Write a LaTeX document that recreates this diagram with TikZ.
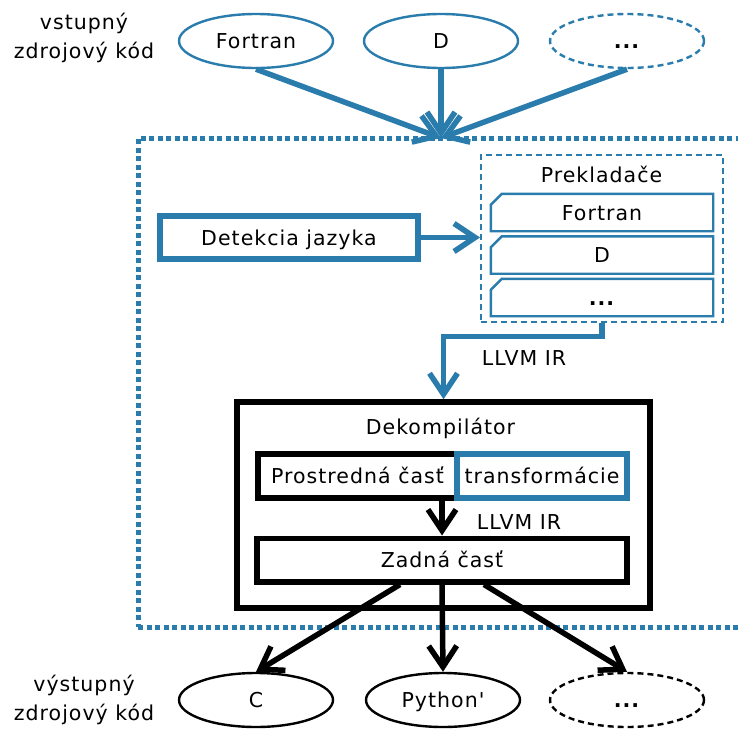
\documentclass[tikz,border=0pt]{standalone}
\usepackage{fontspec}
\setmainfont{DejaVu Sans}[LetterSpace=5,Ligatures=TeXOff]
\usetikzlibrary{arrows.meta,shapes.geometric,calc}
\definecolor{blu}{RGB}{42,124,172}
\newcommand\moredots{\textbf{...}}
\begin{document}
\begin{tikzpicture}[x=1pt,y=-1pt,
  font=\fontsize{20.5}{29}\selectfont,
  every node/.style={text height=17pt,text depth=2pt},
  plain/.style={text height=,text depth=,align=center},
  srcnode/.style={ellipse,draw=blu,line width=2.4pt,minimum width=154pt,minimum height=54pt,inner sep=0pt},
  srcmore/.style={srcnode,dash pattern=on 6pt off 4pt},
  dstnode/.style={ellipse,draw=black,line width=2.4pt,minimum width=154pt,minimum height=54pt,inner sep=0pt},
  dstmore/.style={dstnode,dash pattern=on 6pt off 4pt},
  boxb/.style={rectangle,draw=black,line width=5.5pt,inner sep=0pt},
  boxu/.style={rectangle,draw=blu,line width=5.5pt,inner sep=0pt},
  frontbox/.style={rectangle,inner sep=0pt,minimum width=222pt,minimum height=37pt},
  flow/.style={line width=5.5pt,-{Straight Barb[length=21pt,width=28pt]}},
  label/.style={inner sep=0pt}
]
\useasboundingbox (0,0) rectangle (738,728);

% outer dotted frame of the whole tool
\node[rectangle,draw=blu,line width=5pt,dash pattern=on 5pt off 3.5pt,
      minimum width=622pt,minimum height=489pt,inner sep=0pt] (frame) at (449,382.5) {};
\coordinate (merge) at (441,138);

% input languages
\node[plain] (inlbl) at (84,38) {vstupný\\zdrojový kód};
\node[srcnode] (sf) at (256,41) {Fortran};
\node[srcnode] (sd) at (441,41) {D};
\node[srcmore] (sm) at (627,41) {\moredots};

\draw[flow,blu] (sf.south) -- (merge);
\draw[flow,blu] (sd.south) -- (merge);
\draw[flow,blu] (sm.south) -- (merge);

% language detection
\node[boxu,minimum width=258pt,minimum height=43pt] (detect) at (289,237.5) {Detekcia jazyka};

% front-ends
\node[rectangle,draw=blu,line width=2pt,dash pattern=on 6pt off 4pt,
      minimum width=242pt,minimum height=167pt,inner sep=0pt] (prek) at (602,238) {};
\node[label] (prektitle) at (601.5,175) {Prekladače};
\foreach \n/\t/\y in {pf/Fortran/212.5,pd/D/255,pm/\moredots/297.5}{
  \node[frontbox] (\n) at (602,\y) {\t};
  \draw[blu,line width=2.4pt] ($(\n.north west)+(11,0)$) -- (\n.north east)
     -- (\n.south east) -- (\n.south west) -- ($(\n.north west)+(0,11)$) -- cycle;
}
\draw[flow,blu] (detect.east) -- (detect.east -| prek.west);

% decompiler
\node[boxb,minimum width=413pt,minimum height=206pt] (dek) at (443.5,505) {};
\node[label] (dektitle) at (440.5,427) {Dekompilátor};
\node[boxb,minimum width=199pt,minimum height=44pt] (mid) at (357.5,476) {Prostredná časť};
\node[boxu,minimum width=170pt,minimum height=44pt] (trans) at (542,476) {transformácie};
\node[boxb,minimum width=370pt,minimum height=43.5pt] (back) at (442,560) {Zadná časť};

\draw[flow,blu,line join=miter] (prek.south) -- ++(0,14) -| (dek.north);
\node[label] (ir1) at (524,358) {LLVM IR};

\draw[flow] (mid.south -| back.north) -- (back.north);
\node[label] (ir2) at (519,521.5) {LLVM IR};

% output languages
\node[plain] (outlbl) at (84,700) {výstupný\\zdrojový kód};
\node[dstnode] (oc) at (256,700) {C};
\node[dstnode] (op) at (443,700) {Python'};
\node[dstmore] (om) at (627,700) {\moredots};

\draw[flow] ($(back.south)+(-42,0)$) -- (oc.north);
\draw[flow] (back.south) -- (op.north);
\draw[flow] ($(back.south)+(42,0)$) -- (om.north);
\end{tikzpicture}
\end{document}
